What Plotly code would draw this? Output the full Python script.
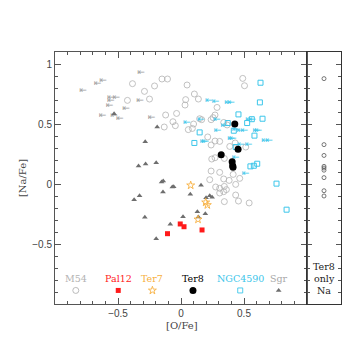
import plotly.graph_objects as go

# ---------------- data ----------------
# M54 detections (open gray circles)
M54_O = [-0.385, -0.29, -0.21, -0.151, -0.107, -0.425, -0.25, -0.122, -0.035, -0.064, -0.045, -0.133,
         0.49, 0.504, 0.048, 0.106, 0.138, 0.037, 0.032, 0.286, 0.10, 0.09, 0.058, 0.164, 0.148,
         0.239, 0.255, 0.27, 0.339, 0.366, 0.212, 0.27, 0.307, 0.239, 0.387, 0.43, 0.244, 0.27,
         0.344, 0.514, 0.239, 0.307, 0.414, 0.466, 0.339, 0.382, 0.434, 0.228, 0.275, 0.307,
         0.344, 0.36, 0.339, 0.307, 0.434, 0.456, 0.344, 0.541]
M54_NA = [0.836, 0.772, 0.817, 0.875, 0.875, 0.697, 0.708, 0.575, 0.588, 0.519, 0.486, 0.475,
          0.88, 0.819, 0.825, 0.75, 0.708, 0.703, 0.658, 0.638, 0.50, 0.463, 0.453, 0.536, 0.544,
          0.536, 0.553, 0.575, 0.513, 0.492, 0.392, 0.358, 0.355, 0.325, 0.313, 0.342, 0.208, 0.219,
          0.213, 0.308, 0.108, 0.097, 0.08, 0.047, 0.042, 0.03, -0.003, 0.036, -0.025, -0.036,
          -0.02, -0.047, -0.064, -0.075, -0.092, -0.142, -0.147, -0.158]
# M54 upper limits on [O/Fe]
M54_LIM_O = [-0.316, -0.66, -0.616, -0.775, -0.555, -0.512, -0.555, -0.324, -0.565, -0.435, -0.62, -0.53, -0.483, -0.231]
M54_LIM_NA = [0.928, 0.838, 0.864, 0.775, 0.72, 0.717, 0.69, 0.694, 0.655, 0.627, 0.569, 0.569, 0.547, 0.55]

# NGC4590 detections (open cyan squares)
NGC_O = [0.631, 0.626, 0.456, 0.647, 0.525, 0.562, 0.419, 0.148, 0.371, 0.583, 0.106, 0.434, 0.551, 0.578, 0.605, 0.758, 0.838]
NGC_NA = [0.844, 0.68, 0.58, 0.544, 0.508, 0.54, 0.444, 0.43, 0.508, 0.403, 0.342, 0.308, 0.147, 0.152, 0.169, 0.003, -0.214]
# NGC4590 upper limits
NGC_LIM_O = [0.223, 0.276, 0.376, 0.398, 0.048, 0.159, 0.286, 0.541, 0.567, 0.345, 0.291, 0.434, 0.472, 0.504,
             0.600, 0.615, 0.398, 0.412, 0.180, 0.195, 0.668, 0.700, 0.477, 0.538, 0.434, 0.514]
NGC_LIM_NA = [0.694, 0.683, 0.675, 0.675, 0.513, 0.536, 0.536, 0.536, 0.536, 0.488, 0.447, 0.453, 0.447, 0.447,
              0.442, 0.442, 0.38, 0.38, 0.350, 0.353, 0.363, 0.363, 0.325, 0.331, 0.219, 0.086]

# Ter8 (black dots)
TER8_O = [0.427, 0.453, 0.319, 0.406, 0.41, 0.413]
TER8_NA = [0.50, 0.29, 0.244, 0.185, 0.152, 0.14]
# Ter8 Na only (right panel)
TER8_ONLY_NA = [0.878, 0.328, 0.238, 0.147, 0.133, 0.115, 0.053, -0.056, -0.10]

# Pal12 (red squares)
PAL12_O = [-0.107, -0.006, 0.024, 0.167]
PAL12_NA = [-0.414, -0.333, -0.356, -0.383]

# Ter7 (orange open stars)
TER7_O = [0.077, 0.196, 0.209, 0.135]
TER7_NA = [-0.011, -0.153, -0.175, -0.295]

# Sgr field (dark gray triangles)
SGR_O = [-0.531, -0.189, -0.284, -0.337, -0.281, -0.197, -0.154, -0.141, -0.069, -0.058, -0.143, -0.329,
         -0.372, -0.287, -0.197, -0.085, 0.016, 0.074, 0.159, 0.199, 0.228, 0.247, 0.13, 0.138, 0.193]
SGR_NA = [0.586, 0.475, 0.353, 0.15, 0.167, 0.178, 0.017, 0.025, -0.025, -0.022, -0.066, -0.098,
          -0.131, -0.278, -0.456, -0.336, -0.272, -0.086, -0.011, -0.114, -0.098, -0.111, -0.231, -0.275, -0.248]

# in-plot legend
LEG_NAMES = ["M54", "Pal12", "Ter7", "Ter8", "NGC4590", "Sgr"]
LEG_X = [-0.835, -0.498, -0.227, 0.095, 0.47, 0.775]
LEG_LABEL_Y = -0.787
LEG_SYM_Y = -0.887

C_M54 = "#b3b3b3"
C_PAL = "#ff1a1a"
C_TER7 = "#f7b040"
C_TER8 = "#000000"
C_NGC = "#3cc6ea"
C_SGR = "#6e6e6e"
LEG_COLORS = [C_M54, C_PAL, C_TER7, C_TER8, C_NGC, "#a8a8a8"]
LEG_SYMBOLS = ["circle-open", "square", "star-open", "circle", "square-open", "triangle-up"]
LEG_SYM_COLORS = [C_M54, C_PAL, C_TER7, C_TER8, C_NGC, C_SGR]
LEG_SIZES = [6, 5, 6, 7, 5, 5]

fig = go.Figure()

def pts(x, y, symbol, size, color, lw=1.0):
    fig.add_trace(go.Scatter(x=x, y=y, mode="markers", showlegend=False, hoverinfo="skip",
                             marker=dict(symbol=symbol, size=size, color=color,
                                         line=dict(width=lw, color=color))))

def lims(x, y, color):
    fig.add_trace(go.Scatter(x=x, y=y, mode="text", text=["\u21e4"] * len(x), showlegend=False,
                             hoverinfo="skip",
                             textfont=dict(family="DejaVu Sans", size=9, color=color)))

pts(M54_O, M54_NA, "circle-open", 6, C_M54, 0.8)
lims(M54_LIM_O, M54_LIM_NA, "#a0a0a0")
pts(SGR_O, SGR_NA, "triangle-up", 5, C_SGR, 0)
pts(NGC_O, NGC_NA, "square-open", 5, C_NGC, 1)
lims(NGC_LIM_O, NGC_LIM_NA, C_NGC)
pts(PAL12_O, PAL12_NA, "square", 5, C_PAL, 0)
pts(TER7_O, TER7_NA, "star-open", 6, C_TER7, 0.9)
pts(TER8_O, TER8_NA, "circle", 7, C_TER8, 0)

# legend symbols
for xs, sym, col, sz in zip(LEG_X, LEG_SYMBOLS, LEG_SYM_COLORS, LEG_SIZES):
    lw = 0.9 if "open" in sym else 0
    pts([xs], [LEG_SYM_Y], sym, sz, col, lw)

# right panel: Ter8 Na only
fig.add_trace(go.Scatter(x=[0.5] * len(TER8_ONLY_NA), y=TER8_ONLY_NA, mode="markers",
                         xaxis="x2", yaxis="y2", showlegend=False, hoverinfo="skip",
                         marker=dict(symbol="circle-open", size=4, color="#555555",
                                     line=dict(width=0.8, color="#555555"))))

ann = []
for name, xs, col in zip(LEG_NAMES, LEG_X, LEG_COLORS):
    ann.append(dict(x=xs, y=LEG_LABEL_Y, xref="x", yref="y", text=name, showarrow=False,
                    font=dict(family="DejaVu Serif", size=9.5, color=col),
                    xanchor="center", yanchor="middle"))
for txt, yy in zip(["Ter8", "only", "Na"], [-0.685, -0.785, -0.885]):
    ann.append(dict(x=0.5, y=yy, xref="x2", yref="y2", text=txt, showarrow=False,
                    font=dict(family="DejaVu Serif", size=9.5, color="#222222"),
                    xanchor="center", yanchor="middle"))
ann.append(dict(x=-0.115, y=0.5, xref="paper", yref="paper", text="[Na/Fe]", textangle=-90,
                showarrow=False, font=dict(family="DejaVu Serif", size=10, color="#444444"),
                xanchor="center", yanchor="middle"))
ann.append(dict(x=0.443, y=-0.085, xref="paper", yref="paper", text="[O/Fe]",
                showarrow=False, font=dict(family="DejaVu Serif", size=10, color="#444444"),
                xanchor="center", yanchor="middle"))

AX = "#555555"
split = 252 / 286
tickfont = dict(family="Liberation Sans", size=10, color="#444444")

fig.update_layout(
    width=351, height=351,
    margin=dict(l=47, r=18, t=44, b=55),
    paper_bgcolor="white", plot_bgcolor="white",
    showlegend=False,
    annotations=ann,
    xaxis=dict(domain=[0, split], range=[-1, 1], tickvals=[-0.5, 0, 0.5], ticks="inside",
               ticklen=6, tickwidth=1, tickcolor=AX, showline=True, linecolor=AX, linewidth=1,
               mirror="allticks", showgrid=False, zeroline=False, tickfont=tickfont,
               minor=dict(dtick=0.1, tick0=0, ticks="inside", ticklen=3, tickcolor=AX, showgrid=False),
               anchor="y"),
    yaxis=dict(range=[-1, 1.1], tickvals=[-0.5, 0, 0.5, 1], ticks="inside", ticklen=6, tickwidth=1,
               tickcolor=AX, showline=True, linecolor=AX, linewidth=1, mirror="allticks",
               showgrid=False, zeroline=False, tickfont=tickfont,
               minor=dict(dtick=0.1, tick0=0, ticks="inside", ticklen=3, tickcolor=AX, showgrid=False),
               anchor="x"),
    xaxis2=dict(domain=[split, 1], range=[0, 1], showticklabels=False, ticks="", showline=True,
                linecolor="#333333", linewidth=1, mirror=True, showgrid=False, zeroline=False,
                anchor="y2"),
    yaxis2=dict(range=[-1, 1.1], tickvals=[-0.5, 0, 0.5, 1], showticklabels=False, ticks="inside",
                ticklen=5, tickwidth=1, tickcolor=AX, showline=True, linecolor="#333333", linewidth=1,
                mirror="allticks", showgrid=False, zeroline=False,
                minor=dict(dtick=0.1, tick0=0, ticks="inside", ticklen=3, tickcolor=AX, showgrid=False),
                anchor="x2"),
)

fig.write_html("out.html")
